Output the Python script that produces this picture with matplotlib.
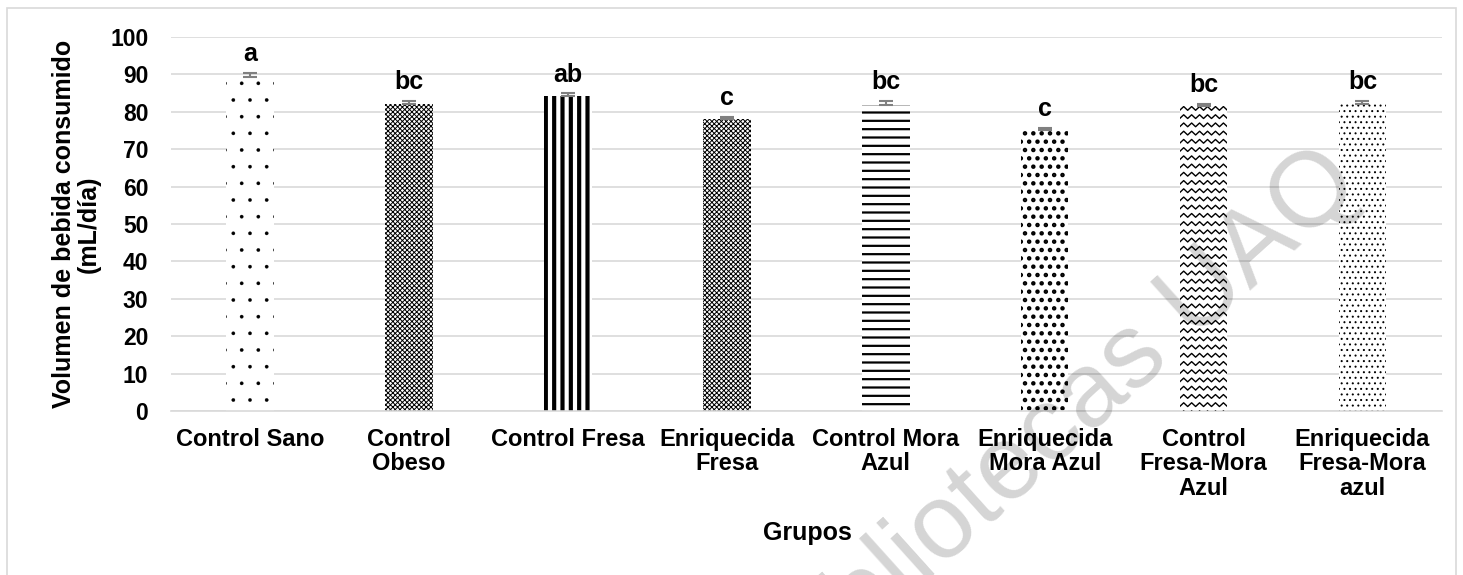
import numpy as np
import matplotlib
matplotlib.use("Agg")
import matplotlib.pyplot as plt
from matplotlib.patches import Rectangle

plt.rcParams['font.family'] = ['Liberation Sans', 'DejaVu Sans']
plt.rcParams['font.weight'] = 'bold'

grupos = ["Control Sano", "Control\nObeso", "Control Fresa", "Enriquecida\nFresa",
          "Control Mora\nAzul", "Enriquecida\nMora Azul", "Control\nFresa-Mora\nAzul",
          "Enriquecida\nFresa-Mora\nazul"]
volumen = [89.3, 82.0, 84.3, 78.0, 81.8, 75.2, 81.6, 82.2]
error = [1.2, 0.8, 0.6, 0.7, 1.0, 0.5, 0.5, 0.6]
letras = ["a", "bc", "ab", "c", "bc", "c", "bc", "bc"]

# hatch pattern and hatch line width for each bar (None = zigzag drawn by hand)
tramas = [".", "xxxxxxx", "||", "xxxxxxx", "--", "..", None, "..."]
grosor = [0.2, 0.7, 3.0, 0.7, 1.6, 2.0, 1.0, 0.7]

fig = plt.figure(figsize=(14.63, 5.75), dpi=100)
ax = fig.add_axes([0.1166, 0.2852, 0.8690, 0.6505])

x = np.arange(len(grupos))
bars = ax.bar(x, volumen, width=0.30, color="white", edgecolor="black",
              linewidth=0, zorder=2)
for b, h, lw in zip(bars, tramas, grosor):
    if h is None:
        continue
    b.set_hatch(h)
    if hasattr(b, "set_hatch_linewidth"):
        b.set_hatch_linewidth(lw)

# zigzag fill for "Control Fresa-Mora Azul"
zz = bars[6]
x0, w, top = zz.get_x(), zz.get_width(), zz.get_height()
xs = np.linspace(x0, x0 + w, 13)
for y0 in np.arange(-1.0, top + 2.0, 2.2):
    ys = y0 + np.where(np.arange(13) % 2 == 0, 0.0, 1.0)
    ln, = ax.plot(xs, ys, color="black", lw=1.0, zorder=3)
    ln.set_clip_path(zz)

ax.errorbar(x, volumen, yerr=[np.zeros(len(error)), error], fmt="none",
            ecolor="#808080", elinewidth=1.5, capsize=5, capthick=1.5, zorder=4)

for xi, v, e, l in zip(x, volumen, error, letras):
    ax.annotate(l, (xi, v + e), xytext=(0, 5), textcoords="offset points",
                ha="center", va="bottom", fontsize=18, fontweight="bold")

ax.set_xlim(-0.5, len(grupos) - 0.5)
ax.set_ylim(0, 100)
ax.set_yticks(np.arange(0, 101, 10))
ax.yaxis.grid(True, color="#d9d9d9", linewidth=1.2, zorder=0)
ax.set_axisbelow(True)
for s in ["top", "right", "left"]:
    ax.spines[s].set_visible(False)
ax.spines["bottom"].set_color("#d9d9d9")
ax.spines["bottom"].set_linewidth(1.2)
ax.tick_params(axis="y", length=0, labelsize=16.5, pad=16)
ax.tick_params(axis="x", length=0, pad=12)
ax.set_xticks(x)
ax.set_xticklabels(grupos, fontsize=17, fontweight="bold", linespacing=1.1)
ax.set_ylabel("Volumen de bebida consumido\n(mL/día)", fontsize=18,
              fontweight="bold", linespacing=1.0, labelpad=7)
fig.text(0.5516, 0.073, "Grupos", ha="center", va="center", fontsize=18,
         fontweight="bold")

# watermark
fig.text(0.7245, 0.261, "Bibliotecas UAQ", fontsize=76, fontweight="normal",
         color="black", alpha=0.17, rotation=42, ha="center", va="center",
         zorder=10)

# outer frame
fig.patches.append(Rectangle((7 / 1463, -0.1), 1449 / 1463, 1.1 - 8 / 575,
                             transform=fig.transFigure, fill=False,
                             edgecolor="#d9d9d9", linewidth=1.2))

fig.savefig("out.png", dpi=100)
